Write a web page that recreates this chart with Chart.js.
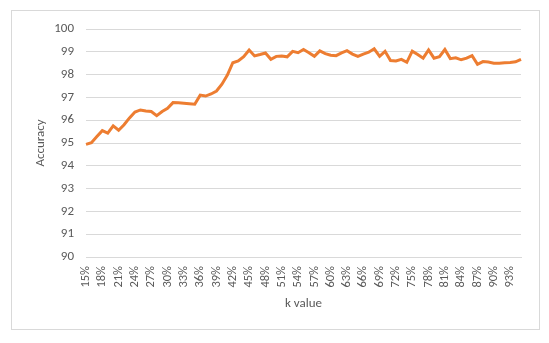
<!DOCTYPE html>
<html>
<head>
<meta charset="utf-8">
<script src="https://cdn.jsdelivr.net/npm/chart.js@4"></script>
<style>
  html, body { margin: 0; padding: 0; background: #ffffff; }
  #wrap { position: relative; width: 549px; height: 343px; }
  #frame { position: absolute; left: 11px; top: 10px; width: 527px; height: 318px; border: 1px solid #d9d9d9; }
  canvas { position: absolute; left: 0; top: 0; }
</style>
</head>
<body>
<div id="wrap">
  <div id="frame"></div>
  <canvas id="c" width="549" height="343"></canvas>
</div>
<script>
const categories = ["15%","16%","17%","18%","19%","20%","21%","22%","23%","24%","25%","26%","27%","28%","29%","30%","31%","32%","33%","34%","35%","36%","37%","38%","39%","40%","41%","42%","43%","44%","45%","46%","47%","48%","49%","50%","51%","52%","53%","54%","55%","56%","57%","58%","59%","60%","61%","62%","63%","64%","65%","66%","67%","68%","69%","70%","71%","72%","73%","74%","75%","76%","77%","78%","79%","80%","81%","82%","83%","84%","85%","86%","87%","88%","89%","90%","91%","92%","93%","94%","95%"];
const accuracy = [94.94,95.01,95.28,95.54,95.43,95.75,95.56,95.8,96.1,96.36,
  96.45,96.4,96.38,96.2,96.38,96.52,96.77,96.76,96.74,96.72,
  96.7,97.1,97.06,97.15,97.28,97.58,97.98,98.52,98.6,98.79,
  99.08,98.82,98.88,98.95,98.67,98.8,98.82,98.78,99.02,98.96,
  99.1,98.96,98.8,99.04,98.92,98.85,98.83,98.95,99.05,98.9,
  98.8,98.9,98.98,99.13,98.8,99.02,98.62,98.6,98.67,98.54,
  99.03,98.88,98.72,99.08,98.72,98.79,99.1,98.7,98.74,98.65,
  98.72,98.83,98.45,98.57,98.55,98.5,98.5,98.52,98.53,98.56,
  98.67];
const yTicks = [90,91,92,93,94,95,96,97,98,99,100];
const xTitle = "k value";
const yTitle = "Accuracy";

const FONT = "Carlito, Calibri, Lato, 'Open Sans', sans-serif";
const TXT = "#595959";

new Chart(document.getElementById('c'), {
  type: 'line',
  data: {
    labels: categories,
    datasets: [{
      data: accuracy,
      borderColor: '#ED7D31',
      borderWidth: 3,
      pointRadius: 0,
      tension: 0,
      fill: false
    }]
  },
  options: {
    responsive: false,
    animation: false,
    devicePixelRatio: 1,
    layout: { padding: { top: 29, right: 28, bottom: 0, left: 0 } },
    plugins: { legend: { display: false }, tooltip: { enabled: false } },
    scales: {
      x: {
        type: 'category',
        offset: false,
        grid: { display: false, drawTicks: false },
        border: { display: true, color: '#d9d9d9', width: 1 },
        ticks: {
          autoSkip: false,
          maxRotation: 90,
          minRotation: 90,
          padding: 9,
          color: TXT,
          font: { family: FONT, size: 12.5 },
          callback: function(v, i) { return i % 3 === 0 ? categories[i] : ''; }
        },
        title: { display: true, text: xTitle, color: TXT, font: { family: FONT, size: 13 }, padding: { top: 0, bottom: 31 } },
        afterFit: function(s) { s.height = 86; }
      },
      y: {
        min: 90,
        max: 100,
        afterBuildTicks: function(s) { s.ticks = yTicks.map(v => ({ value: v })); },
        grid: { color: '#d9d9d9', lineWidth: 1, drawTicks: false },
        border: { display: false },
        ticks: { padding: 12, color: TXT, font: { family: FONT, size: 13 } },
        title: { display: true, text: yTitle, color: TXT, font: { family: FONT, size: 13 }, padding: { top: 33, bottom: 0 } },
        afterFit: function(s) { s.width = 86; }
      }
    }
  }
});
</script>
</body>
</html>
